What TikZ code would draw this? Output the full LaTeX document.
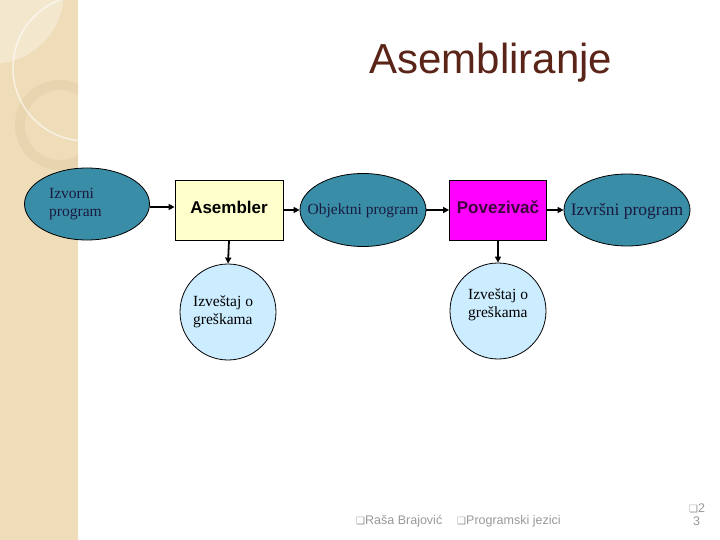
\documentclass[tikz,border=0pt]{standalone}
\usepackage{fontspec}
\setmainfont{Liberation Serif}
\setsansfont{Liberation Sans}
\newfontfamily\symfont{DejaVu Sans}
\usetikzlibrary{shapes.geometric,arrows.meta}
\definecolor{strip}{HTML}{EFDDB9}
\definecolor{ringc}{HTML}{E8D4AE}
\definecolor{teal}{HTML}{3A8DA6}
\definecolor{ltyel}{HTML}{FFFFCC}
\definecolor{ltblue}{HTML}{CCECFF}
\definecolor{magn}{HTML}{FF00FF}
\definecolor{titlec}{HTML}{5A2418}
\definecolor{footc}{HTML}{999999}
\definecolor{navy}{HTML}{1A1A40}
\begin{document}
\begin{tikzpicture}[x=1pt,y=-1pt,
  oval/.style={ellipse,draw=black,line width=0.8pt,fill=teal,inner sep=0pt},
  boxn/.style={rectangle,draw=black,line width=0.8pt,inner sep=0pt},
  errc/.style={circle,draw=black,line width=0.8pt,fill=ltblue,inner sep=0pt,minimum size=96pt},
  lbl/.style={inner sep=0pt,text=navy},
  conn/.style={line width=1.8pt,-{Triangle[length=6pt,width=6pt]}},
  foot/.style={text=footc,font=\sffamily\fontsize{12.5}{13}\selectfont,inner sep=0pt,anchor=west}
]
\useasboundingbox (0,0) rectangle (720,540);
\fill[white] (0,0) rectangle (720,540);
% left decorative strip
\fill[strip] (0,0) rectangle (78,540);
\begin{scope}
\clip (0,0) rectangle (78,540);
\fill[white,opacity=0.3] (-8,-8) circle (72);
\draw[ringc,line width=10pt] (60,125) circle (40);
\draw[white,opacity=0.6,line width=1.5pt] (86,68) circle (73);
\end{scope}
% title
\node[text=titlec,font=\sffamily\fontsize{42}{46}\selectfont] (title) at (491,63) {Asembliranje};
% nodes
\node[oval,minimum width=125pt,minimum height=72pt] (izv) at (87,204) {};
\node[lbl,align=left,anchor=west,font=\fontsize{15.5}{18}\selectfont] (izvt) at (49,204) {Izvorni\\program};
\node[boxn,fill=ltyel,minimum width=108pt,minimum height=60pt] (asm) at (229,210) {};
\node[inner sep=0pt,font=\sffamily\bfseries\fontsize{17}{20}\selectfont] (asmt) at (229,207) {Asembler};
\node[oval,minimum width=126pt,minimum height=73pt] (obj) at (363,210) {};
\node[lbl,font=\fontsize{15.5}{18}\selectfont] (objt) at (363,211) {Objektni program};
\node[boxn,fill=magn,minimum width=97pt,minimum height=60pt] (pov) at (498,210) {};
\node[inner sep=0pt,font=\sffamily\bfseries\fontsize{17}{20}\selectfont,text={rgb,255:red,60;green,8;blue,60}] (povt) at (498,207) {Povezivač};
\node[oval,minimum width=126pt,minimum height=72pt] (exe) at (627,210) {};
\node[lbl,font=\fontsize{17.5}{20}\selectfont] (exet) at (627,211) {Izvršni program};
\node[errc] (err1) at (228,312) {};
\node[align=left,anchor=west,font=\fontsize{15.5}{18}\selectfont,inner sep=0pt] (err1t) at (193,312) {Izveštaj o\\greškama};
\node[errc] (err2) at (498,311) {};
\node[align=left,anchor=west,font=\fontsize{15.5}{18}\selectfont,inner sep=0pt] (err2t) at (468,305) {Izveštaj o\\greškama};
% connectors
\draw[conn] (izv.east |- 0,207) -- (asm.west |- 0,207);
\draw[conn] (asm.east) -- (obj.west);
\draw[conn] (obj.east) -- (pov.west);
\draw[conn] (pov.east) -- (exe.west);
\draw[conn] (asm.south) -- (err1.north);
\draw[conn] (pov.south) -- (err2.north);
% footer
\node[foot] (f1) at (356,521) {{\symfont\fontsize{10}{12}\selectfont ❑}Raša Brajović};
\node[foot] (f2) at (457,521) {{\symfont\fontsize{10}{12}\selectfont ❑}Programski jezici};
\node[foot] (f3) at (689,508) {{\symfont\fontsize{10}{12}\selectfont ❑}2};
\node[foot] (f4) at (693,521) {3};
\end{tikzpicture}
\end{document}
